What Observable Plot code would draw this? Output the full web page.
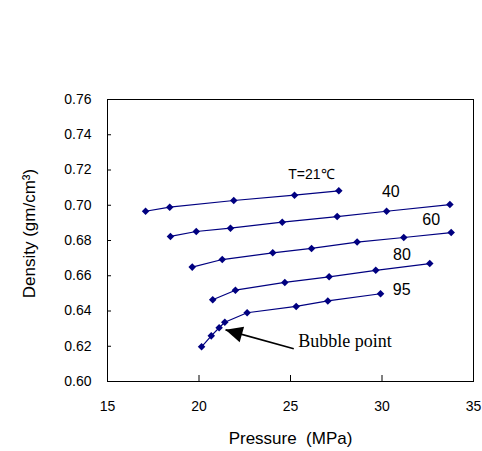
<!DOCTYPE html>
<html><head><meta charset="utf-8">
<script src="https://cdn.jsdelivr.net/npm/d3@7"></script>
<script src="https://cdn.jsdelivr.net/npm/@observablehq/plot@0.6"></script>
<style>body{margin:0;background:#fff}svg{display:block}</style>
</head><body><div id="chart"></div>
<script>
// Series (temperature, °C)
const series = ["21", "40", "60", "80", "95"];
const p21 = [17.08, 18.40, 21.90, 25.22, 27.64];
const d21 = [0.6966, 0.6989, 0.7027, 0.7057, 0.7082];
const p40 = [18.44, 19.85, 21.72, 24.55, 27.55, 30.25, 33.71];
const d40 = [0.6823, 0.6851, 0.6870, 0.6904, 0.6936, 0.6966, 0.7004];
const p60 = [19.63, 21.27, 24.03, 26.15, 28.64, 31.19, 33.78];
const d60 = [0.6649, 0.6692, 0.6730, 0.6755, 0.6791, 0.6817, 0.6845];
const p80 = [20.75, 21.99, 24.69, 27.11, 29.66, 32.61];
const d80 = [0.6464, 0.6518, 0.6562, 0.6594, 0.6631, 0.6669];
const p95 = [20.14, 20.67, 21.10, 21.41, 22.63, 25.31, 27.04, 29.92];
const d95 = [0.6197, 0.6259, 0.6305, 0.6336, 0.6390, 0.6426, 0.6457, 0.6498];

// Tick labels
const xTicks = [15, 20, 25, 30, 35];
const yTicks = [0.60, 0.62, 0.64, 0.66, 0.68, 0.70, 0.72, 0.74, 0.76];

// Series labels
const labelText = ["T=21\u2103", "40", "60", "80", "95"];
const labelP = [26.14, 30.48, 32.69, 31.09, 31.08];
const labelD = [0.7176, 0.7077, 0.6918, 0.6719, 0.6521];

// Annotation
const noteText = ["Bubble point"];
const noteP = [25.42];
const noteD = [0.6228];
const arrowTail = [25.18, 0.6186];
const arrowTip = [21.45, 0.6293];

const xTitle = "Pressure\u00a0\u00a0(MPa)";
const yTitle = "Density (gm/cm\u00b3)";

const allP = [p21, p40, p60, p80, p95];
const allD = [d21, d40, d60, d80, d95];
const rows = [];
series.forEach((s, i) => allP[i].forEach((p, j) => rows.push({series: s, p, d: allD[i][j]})));
const labels = labelText.map((t, i) => ({t, p: labelP[i], d: labelD[i]}));
const notes = noteText.map((t, i) => ({t, p: noteP[i], d: noteD[i]}));

const navy = "#000080";
const headShape = {draw(ctx) { ctx.moveTo(0, 0); ctx.lineTo(-8, 17); ctx.lineTo(8, 17); ctx.closePath(); }};
const xMin = 15, xMax = 35, yMin = 0.60, yMax = 0.76;

const chart = Plot.plot({
  width: 482,
  height: 451,
  marginLeft: 107,
  marginRight: 9,
  marginTop: 99,
  marginBottom: 70,
  style: {fontFamily: "'Liberation Sans', Arial, sans-serif", fontSize: "14px", background: "#fff", color: "#000"},
  x: {domain: [xMin, xMax]},
  y: {domain: [yMin, yMax]},
  marks: [
    Plot.frame({stroke: "#000", strokeWidth: 1}),
    Plot.axisX({ticks: xTicks, tickSize: 0, tickPadding: 20, label: null, tickFormat: d => String(d), fontSize: 14}),
    Plot.axisY({ticks: yTicks, tickSize: 0, tickPadding: 16, label: null, tickFormat: d => d.toFixed(2), fontSize: 14}),
    // inward tick marks
    Plot.ruleX(xTicks, {x: d => d, y1: yMin, y2: yMin + 0.0034, stroke: "#000"}),
    Plot.ruleY(yTicks, {y: d => d, x1: xMin, x2: xMin + 0.22, stroke: "#000"}),
    Plot.line(rows, {x: "p", y: "d", z: "series", stroke: navy, strokeWidth: 1.2}),
    Plot.dot(rows, {x: "p", y: "d", symbol: "diamond2", r: 3.4, fill: navy, stroke: "none"}),
    Plot.text(labels, {x: "p", y: "d", text: "t", fontSize: d => d.t.length > 2 ? 14 : 16, lineAnchor: "middle", fill: "#000"}),
    Plot.text(notes, {x: "p", y: "d", text: "t", textAnchor: "start", lineAnchor: "middle", fontSize: 18, fontFamily: "'Liberation Serif', 'Times New Roman', serif", fill: "#000"}),
    Plot.link([{x1: arrowTail[0], y1: arrowTail[1], x2: arrowTip[0], y2: arrowTip[1]}], {x1: "x1", y1: "y1", x2: "x2", y2: "y2", stroke: "#000", strokeWidth: 1.6}),
    Plot.dot([{p: arrowTip[0], d: arrowTip[1]}], {x: "p", y: "d", symbol: headShape, fill: "#000", stroke: "none", rotate: -74}),
    Plot.text([xTitle], {frameAnchor: "bottom", dy: 57.5, lineAnchor: "middle", textAnchor: "middle", fontSize: 17, fill: "#000"}),
    Plot.text([yTitle], {frameAnchor: "left", dx: -78, dy: -7, rotate: -90, lineAnchor: "middle", textAnchor: "middle", fontSize: 17, fill: "#000"})
  ]
});
document.getElementById("chart").appendChild(chart);
</script>
</body></html>
